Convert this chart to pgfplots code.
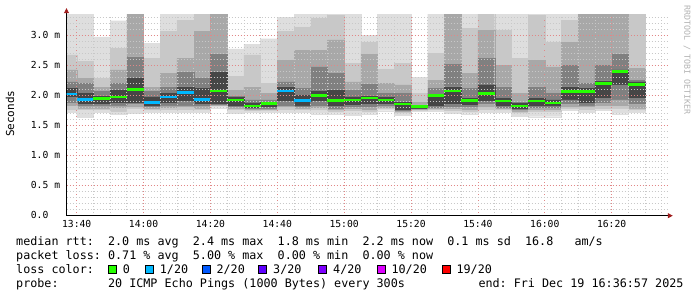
\documentclass[border=0pt]{standalone}
\usepackage{pgfplots}
\pgfplotsset{compat=1.18}
\usepackage{pgfplotstable}
\usepackage{fontspec}
\setmonofont{DejaVu Sans Mono}
\usetikzlibrary{arrows.meta}
\definecolor{Lone}{RGB}{222,222,222}
\definecolor{Ltwo}{RGB}{200,200,200}
\definecolor{Lthree}{RGB}{168,168,168}
\definecolor{Lfour}{RGB}{128,128,128}
\definecolor{Lfive}{RGB}{70,70,70}
\definecolor{lossA}{HTML}{26FF00}
\definecolor{lossB}{HTML}{00B8FF}
\definecolor{lossC}{HTML}{0059FF}
\definecolor{lossD}{HTML}{5E00FF}
\definecolor{lossE}{HTML}{7E00FF}
\definecolor{lossF}{HTML}{DD00FF}
\definecolor{lossG}{HTML}{FF0000}
\definecolor{arrowred}{RGB}{160,30,30}
\definecolor{mgrid}{RGB}{225,135,135}
\definecolor{ngrid}{RGB}{200,200,200}
\pgfplotstableread{
x     mn   l2   l3   l4   l5   u5   u4   u3   u2   mx
37.5  1.73 1.76 1.82 1.87 1.97 2.12 2.23 2.43 2.68 3.40
42.5  1.64 1.76 1.78 1.82 1.85 2.04 2.21 2.29 2.57 3.40
47.5  1.73 1.76 1.78 1.83 1.85 2.00 2.07 2.15 2.29 2.98
52.5  1.69 1.73 1.79 1.83 1.87 2.09 2.21 2.43 2.79 3.25
57.5  1.71 1.78 1.80 1.85 1.87 2.29 2.65 3.40 3.45 3.50
62.5  1.72 1.75 1.77 1.80 1.82 1.98 2.07 2.15 2.62 2.87
67.5  1.72 1.76 1.79 1.83 1.87 2.04 2.15 2.37 3.07 3.40
72.5  1.72 1.76 1.80 1.83 1.90 2.15 2.40 2.62 3.26 3.40
77.5  1.72 1.76 1.78 1.82 1.86 2.12 2.29 3.07 3.40 3.50
82.5  1.80 1.82 1.83 1.84 1.86 2.40 2.70 3.40 3.45 3.50
87.5  1.71 1.76 1.78 1.80 1.82 1.97 2.00 2.10 2.32 2.78
92.5  1.72 1.74 1.76 1.77 1.79 1.88 1.93 2.15 2.68 2.86
97.5  1.72 1.75 1.76 1.78 1.80 1.90 1.93 2.04 2.21 2.95
102.5 1.72 1.76 1.80 1.82 1.90 2.15 2.23 2.60 3.07 3.31
107.5 1.72 1.76 1.78 1.80 1.83 2.01 2.12 2.76 3.15 3.40
112.5 1.70 1.75 1.79 1.82 1.90 2.07 2.48 2.76 3.30 3.40
117.5 1.70 1.73 1.76 1.78 1.82 2.10 2.37 2.93 3.35 3.40
122.5 1.68 1.74 1.77 1.80 1.84 1.98 2.10 2.23 2.55 3.40
127.5 1.70 1.73 1.76 1.80 1.86 2.00 2.20 2.70 2.90 3.01
132.5 1.75 1.77 1.79 1.82 1.85 1.97 2.04 2.21 2.45 3.40
137.5 1.68 1.70 1.72 1.74 1.76 1.90 2.04 2.18 2.54 3.40
142.5 1.74 1.75 1.76 1.77 1.78 1.84 1.85 1.90 2.04 2.31
147.5 1.74 1.76 1.77 1.79 1.82 2.02 2.12 2.26 2.71 3.40
152.5 1.71 1.74 1.77 1.80 1.85 2.15 2.52 3.40 3.45 3.50
157.5 1.70 1.73 1.76 1.80 1.84 1.96 2.12 2.37 3.12 3.40
162.5 1.73 1.76 1.80 1.85 1.90 2.18 2.62 3.09 3.40 3.50
167.5 1.72 1.75 1.77 1.79 1.82 1.96 2.15 2.51 3.10 3.40
172.5 1.66 1.70 1.73 1.75 1.77 1.87 1.90 2.04 2.62 3.40
177.5 1.65 1.73 1.75 1.79 1.82 1.96 2.15 2.60 3.35 3.40
182.5 1.65 1.73 1.76 1.79 1.82 1.93 2.04 2.48 2.90 3.40
187.5 1.76 1.78 1.80 1.85 1.93 2.15 2.51 2.90 3.26 3.40
192.5 1.73 1.76 1.80 1.83 1.87 2.12 2.21 3.40 3.45 3.50
197.5 1.76 1.77 1.82 1.87 1.96 2.25 2.51 3.40 3.45 3.50
202.5 1.70 1.78 1.82 1.93 2.18 2.43 2.70 3.40 3.45 3.50
207.5 1.72 1.75 1.78 1.85 1.96 2.23 2.26 2.46 3.38 3.40
}\smoke
\pgfplotstableread{
x     med
47.5  1.95
52.5  1.98
57.5  2.10
82.5  2.08
87.5  1.93
92.5  1.83
97.5  1.87
112.5 2.00
117.5 1.92
122.5 1.93
127.5 1.96
132.5 1.93
137.5 1.86
142.5 1.82
147.5 2.00
152.5 2.08
157.5 1.92
162.5 2.04
167.5 1.91
172.5 1.83
177.5 1.91
182.5 1.88
187.5 2.07
192.5 2.07
197.5 2.20
202.5 2.40
207.5 2.19
}\medgreen
\pgfplotstableread{
x     med
37.5  2.03
42.5  1.94
62.5  1.89
67.5  1.98
72.5  2.05
77.5  1.94
102.5 2.08
107.5 1.92
}\medcyan
\newcommand\legfont{\ttfamily\fontsize{11.74}{14}\selectfont}
\newcommand\tickfont{\ttfamily\fontsize{9.7}{11}\selectfont}
\pgfplotsset{
  seg/.style={draw=#1, fill=#1, line width=0.2pt},
  frame/.style={
    at={(66.5pt,81.3pt)}, anchor=south west,
    scale only axis, width=601.8pt, height=201pt,
    xmin=36.95, xmax=216.95, ymin=0, ymax=3.35,
  }
}
\begin{document}
\begin{tikzpicture}[x=1pt,y=1pt]
\useasboundingbox (0,0) rectangle (697,297);
\begin{axis}[
  frame,
  ybar stacked, bar width=5,
  axis lines=left, axis on top,
  axis line style={black, line width=0.8pt},
  x axis line style={-{Triangle[length=5pt,width=5pt,color=arrowred]}, shorten >=-4.5pt},
  y axis line style={-{Triangle[length=5pt,width=5pt,color=arrowred]}, shorten >=-6.5pt},
  xtick={40,60,80,100,120,140,160,180,200},
  xticklabels={13:40,14:00,14:20,14:40,15:00,15:20,15:40,16:00,16:20},
  minor xtick={45,50,55,65,70,75,85,90,95,105,110,115,125,130,135,145,150,155,165,170,175,185,190,195,205,210,215},
  ytick={0,0.5,1,1.5,2,2.5,3},
  yticklabels={0.0,0.5 m,1.0 m,1.5 m,2.0 m,2.5 m,3.0 m},
  minor ytick={0.1,0.2,0.3,0.4,0.6,0.7,0.8,0.9,1.1,1.2,1.3,1.4,1.6,1.7,1.8,1.9,2.1,2.2,2.3,2.4,2.6,2.7,2.8,2.9,3.1,3.2,3.3},
  grid=both,
  major grid style={draw=mgrid, line width=0.75pt, dash pattern=on 1pt off 2pt},
  minor grid style={draw=ngrid, line width=0.7pt, dash pattern=on 1pt off 2pt},
  major tick length=0pt, minor tick length=0pt,
  xticklabel style={font=\tickfont, anchor=base, inner sep=0pt, yshift=-12.3pt},
  yticklabel style={font=\tickfont, anchor=base west, inner sep=0pt, xshift=-35.8pt, yshift=-2.8pt},
]
\addplot[draw=none, fill=none] table[x=x, y=mn] {\smoke};
\addplot[seg=Lone]   table[x=x, y expr=\thisrow{l2}-\thisrow{mn}] {\smoke};
\addplot[seg=Ltwo]   table[x=x, y expr=\thisrow{l3}-\thisrow{l2}] {\smoke};
\addplot[seg=Lthree] table[x=x, y expr=\thisrow{l4}-\thisrow{l3}] {\smoke};
\addplot[seg=Lfour]  table[x=x, y expr=\thisrow{l5}-\thisrow{l4}] {\smoke};
\addplot[seg=Lfive]  table[x=x, y expr=\thisrow{u5}-\thisrow{l5}] {\smoke};
\addplot[seg=Lfour]  table[x=x, y expr=\thisrow{u4}-\thisrow{u5}] {\smoke};
\addplot[seg=Lthree] table[x=x, y expr=\thisrow{u3}-\thisrow{u4}] {\smoke};
\addplot[seg=Ltwo]   table[x=x, y expr=\thisrow{u2}-\thisrow{u3}] {\smoke};
\addplot[seg=Lone]   table[x=x, y expr=\thisrow{mx}-\thisrow{u2}] {\smoke};
\end{axis}
\begin{axis}[frame, hide axis, clip marker paths=true]
\addplot[only marks, mark=-, mark size=8.36pt, mark options={draw=lossA, line width=2.5pt, line cap=butt}] table[x=x, y=med] {\medgreen};
\addplot[only marks, mark=-, mark size=8.36pt, mark options={draw=lossB, line width=2.5pt, line cap=butt}] table[x=x, y=med] {\medcyan};
\end{axis}
\node[rotate=90, font=\ttfamily\fontsize{11}{12}\selectfont, inner sep=0pt] at (10,183.3) {Seconds};
\node[rotate=-90, font=\ttfamily\fontsize{8.3}{9}\selectfont, text=black!30, inner sep=0pt] at (687,237) {RRDTOOL / TOBI OETIKER};
\begin{scope}[every node/.style={anchor=base west, inner sep=0pt, font=\legfont}]
\node at (16,51.5) {median rtt:~~2.0 ms avg~~2.4 ms max~~1.8 ms min~~2.2 ms now~~0.1 ms sd~~16.8~~~am/s};
\node at (16,37.5) {packet loss: 0.71 \% avg~~5.00 \% max~~0.00 \% min~~0.00 \% now};
\node at (16,23.5) {loss color:};
\node at (16,9.5) {probe:~~~~~~~20 ICMP Echo Pings (1000 Bytes) every 300s};
\node at (478.3,9.5) {end: Fri Dec 19 16:36:57 2025};
\foreach \bx/\c/\t in {108/lossA/{0}, 145/lossB/{1/20}, 201.7/lossC/{2/20}, 258.3/lossD/{3/20}, 318.3/lossE/{4/20}, 376.7/lossF/{10/20}, 441.7/lossG/{19/20}}{
  \draw[fill=\c, draw=black, line width=0.7pt] (\bx+0.5,23.8) rectangle (\bx+8.5,31.8);
  \node at (\bx+14.7,23.5) {\t};
}
\end{scope}
\end{tikzpicture}
\end{document}
